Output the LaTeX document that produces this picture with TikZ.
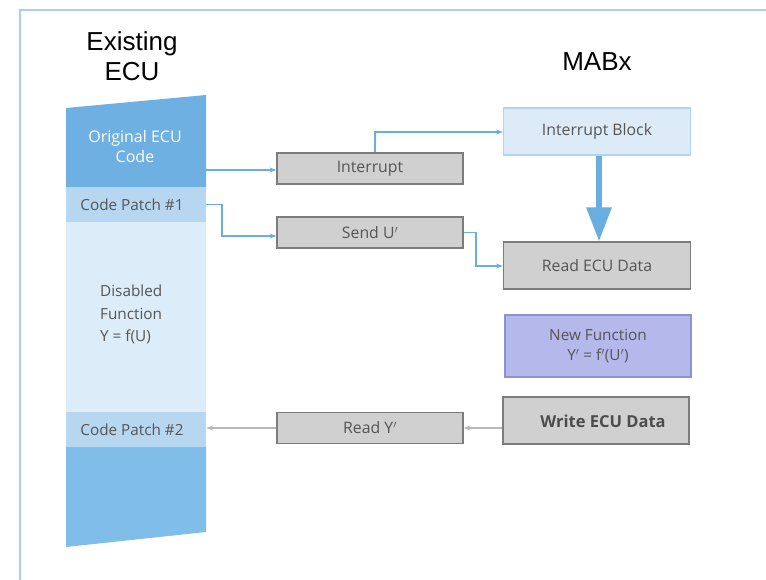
\documentclass[tikz,border=0pt]{standalone}
\usepackage{fontspec}
\setmainfont{Open Sans}
\newfontfamily\titlefont{Liberation Sans}
\usetikzlibrary{arrows.meta}
\definecolor{frameblue}{HTML}{A9CEF0}
\definecolor{ecudark}{HTML}{6FB0E2}
\definecolor{ecubottom}{HTML}{80BDE9}
\definecolor{ecumid}{HTML}{B7D7F1}
\definecolor{eculight}{HTML}{DDECF9}
\definecolor{arrowblue}{HTML}{6AAEE0}
\definecolor{boxgray}{HTML}{D0D0D0}
\definecolor{boxedge}{HTML}{7C7C7C}
\definecolor{txtgray}{HTML}{555555}
\definecolor{ibfill}{HTML}{DDEBF9}
\definecolor{ibedge}{HTML}{B3D4F0}
\definecolor{nffill}{HTML}{B4B8EA}
\definecolor{nfedge}{HTML}{8C91D2}
\definecolor{graywire}{HTML}{B8B8B8}
\tikzset{
  graybox/.style={draw=boxedge, line width=1.2pt, fill=boxgray, text=txtgray,
    font=\fontsize{15.8}{18}\selectfont, inner sep=0pt},
  bluewire/.style={draw=arrowblue, line width=1.4pt, -{Stealth[length=7pt,width=5pt]}},
  greywire/.style={draw=graywire, line width=1.2pt, -{Stealth[length=7pt,width=5pt]}},
  ecutext/.style={text=txtgray, font=\fontsize{15.3}{22.5}\selectfont, inner sep=0pt},
  title/.style={font=\titlefont\fontsize{26}{30}\selectfont, text=black, align=center}
}
\begin{document}
\begin{tikzpicture}[x=1pt,y=-1pt]
\useasboundingbox (0,0) rectangle (766,580);
\fill[white] (0,0) rectangle (766,580);
% frame
\draw[frameblue, line width=1.5pt] (20,580) -- (20,10) -- (766,10);
% titles
\node[title] (ecutitle) at (132,56) {Existing\\ECU};
\node[title] (mabx) at (597,62) {MABx};
% ECU column
\fill[ecudark] (66,108) -- (206,95) -- (206,187) -- (66,187) -- cycle;
\node[minimum width=140pt, minimum height=35pt, fill=ecumid, inner sep=0pt] (cp1) at (136,204.5) {};
\node[ecutext] (cp1text) at (132,205) {Code Patch \#1};
\node[minimum width=140pt, minimum height=190pt, fill=eculight, inner sep=0pt] (dis) at (136,317) {};
\node[ecutext, align=left, anchor=north west] (distext) at (100,285) {Disabled\\Function\\Y = f(U)};
\node[minimum width=140pt, minimum height=35pt, fill=ecumid, inner sep=0pt] (cp2) at (136,429.5) {};
\node[ecutext] (cp2text) at (132,430) {Code Patch \#2};
\fill[ecubottom] (66,447) -- (206,447) -- (206,532) -- (66,547) -- cycle;
\node[text=white, font=\fontsize{16}{20}\selectfont, align=center] (orig) at (135,147) {Original ECU\\Code};
\coordinate (origR) at (206,170);
% MABx-side boxes
\node[graybox, minimum width=186pt, minimum height=31pt] (intr) at (370,168.5) {Interrupt};
\node[graybox, minimum width=186pt, minimum height=31pt] (send) at (370,232.5) {Send U$'$};
\node[graybox, minimum width=186pt, minimum height=31pt] (ready) at (370,428) {Read Y$'$};
\node[draw=ibedge, line width=1.2pt, fill=ibfill, text=txtgray, font=\fontsize{15.8}{18}\selectfont,
  minimum width=187pt, minimum height=47pt, inner sep=0pt] (ib) at (597,131.5) {Interrupt Block};
\node[graybox, minimum width=187pt, minimum height=47pt] (readecu) at (597,265.5) {Read ECU Data};
\node[draw=nfedge, line width=1.2pt, fill=nffill, text=txtgray, font=\fontsize{15.3}{20}\selectfont,
  minimum width=186pt, minimum height=62pt, inner sep=0pt, align=center] (nf) at (598,346) {New Function\\Y$'$ = f$'$(U$'$)};
\node[graybox, minimum width=186pt, minimum height=47pt, text=black!70] (write) at (596,420.5) {};
\node[font=\bfseries\fontsize{16.5}{18}\selectfont, text=black!70] (writetext) at (603,421) {Write ECU Data};
% connectors
\draw[bluewire] (origR) -- (intr.west |- origR);
\draw[bluewire] (cp1.east) -| (222,236) -- (send.west |- 0,236);
\draw[bluewire] (intr.north -| 375,0) |- (ib.west |- 0,132);
\draw[bluewire] (send.east) -| (476,266) -- (readecu.west |- 0,266);
\draw[arrowblue, line width=6pt, -{Triangle[length=34pt,width=24pt]}] (ib.south -| 599,0) -- (readecu.north -| 599,0);
\draw[greywire] (write.west |- ready.east) -- (ready.east);
\draw[greywire] (ready.west) -- (cp2.east |- ready.west);
\end{tikzpicture}
\end{document}
